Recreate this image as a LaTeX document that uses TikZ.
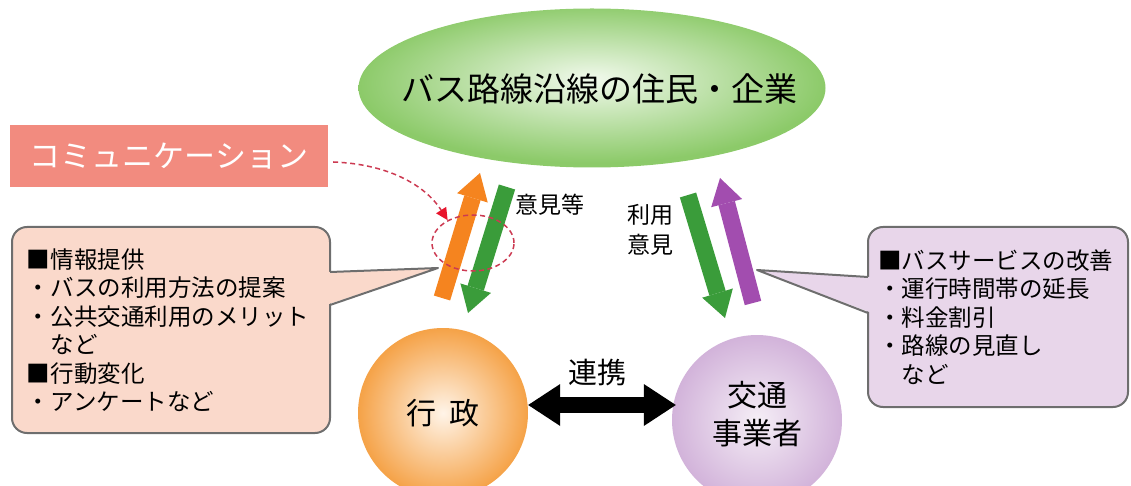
\documentclass[tikz,border=0pt]{standalone}
\usepackage{fontspec}
\setmainfont{Noto Sans CJK JP}
\usetikzlibrary{%
  arrows.meta,%
  shapes.geometric%
}
\definecolor{greenin}{HTML}{F1F9EC}
\definecolor{greenout}{HTML}{8CCA69}
\definecolor{orangein}{HTML}{FFF4E8}
\definecolor{orangeout}{HTML}{F5A247}
\definecolor{purplein}{HTML}{F5EEF6}
\definecolor{purpleout}{HTML}{D2B3DA}
\definecolor{commred}{HTML}{F28B7F}
\definecolor{peach}{HTML}{FAD9CB}
\definecolor{lavender}{HTML}{E8D6EA}
\definecolor{boxgray}{HTML}{6E6E6E}
\definecolor{arrorange}{HTML}{F5841F}
\definecolor{arrgreen}{HTML}{3A9C3A}
\definecolor{arrpurple}{HTML}{A24DAF}
\definecolor{dashred}{HTML}{CC3A52}
\definecolor{tipred}{HTML}{E8142C}
\pgfdeclareradialshading{greenglow}{\pgfpoint{0bp}{3bp}}{color(0bp)=(greenin);
  color(25bp)=(greenout); color(50bp)=(greenout)}
\pgfdeclareradialshading{orangeglow}{\pgfpoint{0bp}{0bp}}{color(0bp)=(orangein);
  color(25bp)=(orangeout); color(50bp)=(orangeout)}
\pgfdeclareradialshading{purpleglow}{\pgfpoint{0bp}{0bp}}{color(0bp)=(purplein);
  color(25bp)=(purpleout); color(50bp)=(purpleout)}
\tikzset{>=latex,%
  infobox/.style={draw=boxgray,line width=2pt,rounded corners=15pt,align=left,
    inner sep=0pt,font=\fontsize{23.5pt}{28.5pt}\selectfont},
  flow/.style={line width=17pt,-{Triangle[length=26pt,width=32pt,line width=0pt]}},
  agent/.style={circle,shade,minimum size=170pt,inner sep=0pt,
    font=\fontsize{30pt}{38pt}\selectfont}}

\begin{document}
\begin{tikzpicture}[x=1pt,y=-1pt]
      \useasboundingbox (0,0) rectangle (1131,486);
      \node[ellipse,shade,shading=greenglow,minimum width=467pt,minimum height=159pt,
        inner sep=0pt] (residents) at (592,88) {};
      \node[font=\fontsize{33pt}{33pt}\selectfont] (residentsname) at (599,89)
      {バス路線沿線の住民・企業};
      \node[fill=commred,minimum width=318pt,minimum height=62pt,inner sep=0pt,
        text=white,font=\fontsize{31pt}{31pt}\selectfont] (comm) at (169,156)
      {コミュニケーション};
      \node[infobox,fill=peach,minimum width=318pt,minimum height=206pt,
        text width=288pt] (govinfo) at (171,330)
      {■情報提供\\・バスの利用方法の提案\\・公共交通利用のメリット\\　など\\■行動変化\\・アンケートなど};
      \coordinate (govtip) at (438,268);
      \fill[peach] (326,272) -- (govtip) -- (326,305) -- cycle;
      \draw[boxgray,line width=2pt,line join=round] (330,272) -- (govtip) -- (330,305);
      \node[infobox,fill=lavender,minimum width=260pt,minimum height=180pt,
        text width=240pt] (opsinfo) at (998,317)
      {■バスサービスの改善\\・運行時間帯の延長\\・料金割引\\・路線の見直し\\　など};
      \coordinate (opstip) at (757,270);
      \fill[lavender] (872,277) -- (opstip) -- (872,313) -- cycle;
      \draw[boxgray,line width=2pt,line join=round] (868,277) -- (opstip) -- (868,313);
      \node[agent,shading=orangeglow] (gov) at (443,413) {行\hspace{0.45em}政};
      \node[agent,shading=purpleglow] (ops) at (757,420) {};
      \node[font=\fontsize{30pt}{38pt}\selectfont,align=center] (opsname) at (757,414)
      {交通\\事業者};
      \coordinate (govup) at (442,298);
      \coordinate (govupend) at (480,173);
      \coordinate (govdown) at (507,187);
      \coordinate (govdownend) at (468,313);
      \coordinate (opsdown) at (688,195);
      \coordinate (opsdownend) at (725,318);
      \coordinate (opsup) at (753,303);
      \coordinate (opsupend) at (720,178);
      \draw[flow,arrorange] (govup) -- (govupend);
      \draw[flow,arrgreen] (govdown) -- (govdownend);
      \draw[flow,arrgreen] (opsdown) -- (opsdownend);
      \draw[flow,arrpurple] (opsup) -- (opsupend);
      \node[font=\fontsize{23pt}{23pt}\selectfont] (opinions) at (550,205) {意見等};
      \node[font=\fontsize{23pt}{30pt}\selectfont,align=center] (usage) at (650,230)
      {利用\\意見};
      \node[ellipse,draw=dashred,line width=1.5pt,dash pattern=on 5pt off 3.5pt,
        minimum width=82pt,minimum height=56pt] (focus) at (473,243) {};
      \draw[dashred,line width=1.5pt,dash pattern=on 5pt off 3.5pt,
        -{Triangle[length=12pt,width=12pt,line width=0pt,color=tipred]}]
      ([xshift=5pt,yshift=-6pt]comm.east) .. controls (388,164) and (425,185) .. (focus.138);
      \draw[line width=16pt,{Triangle[length=32pt,width=42pt,line width=0pt]}-%
        {Triangle[length=32pt,width=42pt,line width=0pt]}]
      ([yshift=8pt]gov.east) -- ([xshift=4pt,yshift=15pt]ops.west);
      \node[font=\fontsize{29pt}{29pt}\selectfont] (cooperation) at (597,373) {連携};
    \end{tikzpicture}
\end{document}
